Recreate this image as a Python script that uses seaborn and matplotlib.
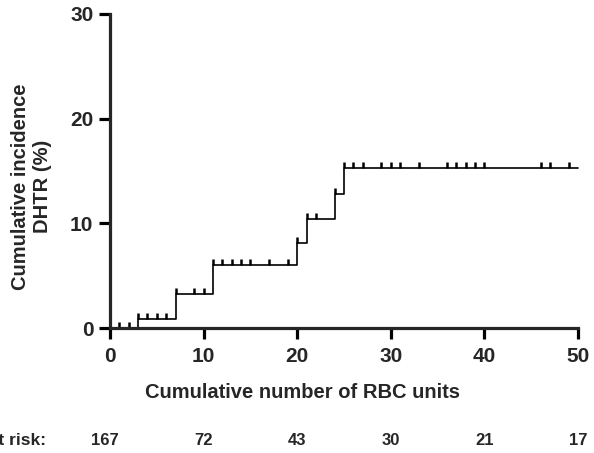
import seaborn as sns
import matplotlib.pyplot as plt
import matplotlib.transforms as mtransforms

# Kaplan-Meier style cumulative incidence (step points)
step_units = [0, 3, 7, 11, 20, 21, 24, 25, 50]
step_incidence = [0, 0.86, 3.22, 6.0, 8.15, 10.45, 12.77, 15.24, 15.24]

# censored observations
censor_units = [1, 2,
                3, 4, 5, 6,
                7, 9, 10,
                11, 12, 13, 14, 15, 17, 19,
                20,
                21, 22,
                24,
                25, 26, 27, 29, 30, 31, 33, 36, 37, 38, 39, 40, 46, 47, 49]
censor_incidence = [0, 0,
                    0.86, 0.86, 0.86, 0.86,
                    3.22, 3.22, 3.22,
                    6.0, 6.0, 6.0, 6.0, 6.0, 6.0, 6.0,
                    8.15,
                    10.45, 10.45,
                    12.77,
                    15.24, 15.24, 15.24, 15.24, 15.24, 15.24, 15.24, 15.24,
                    15.24, 15.24, 15.24, 15.24, 15.24, 15.24, 15.24]

risk_units = [0, 10, 20, 30, 40, 50]
at_risk = [167, 72, 43, 30, 21, 17]

sns.set_style("ticks")
plt.rcParams['font.family'] = ['Liberation Sans', 'DejaVu Sans']
plt.rcParams['font.weight'] = 'bold'

fig = plt.figure(figsize=(5.94, 4.53), dpi=100)
ax = fig.add_axes([0.1852, 0.2759, 0.7879, 0.6932])

sns.lineplot(x=step_units, y=step_incidence, drawstyle='steps-post', estimator=None,
             color='black', linewidth=1.2, ax=ax, clip_on=False)
ax.plot(censor_units, censor_incidence, ls='none', marker=[(0, 0), (0, 1)],
        markersize=8, markeredgewidth=1.8, color='black', clip_on=False)

ax.set_xlim(0, 50)
ax.set_ylim(0, 30)
ax.set_xticks(range(0, 51, 10))
ax.set_yticks(range(0, 31, 10))
sns.despine(ax=ax)
for s in ['left', 'bottom']:
    ax.spines[s].set_linewidth(2.3)
ax.tick_params(length=8, width=2.3, labelsize=15, color='black')
ax.tick_params(axis='x', pad=6)
ax.tick_params(axis='y', pad=4)
for lab in ax.get_xticklabels() + ax.get_yticklabels():
    lab.set_fontweight('bold')

ax.set_xlabel("Cumulative number of RBC units", fontsize=14.5, fontweight='bold')
ax.xaxis.set_label_coords(0.412, -0.175)
ax.set_ylabel("Cumulative incidence\nDHTR (%)", fontsize=14.5, fontweight='bold')
ax.yaxis.set_label_coords(-0.124, 0.45)

# number at risk row
trans = mtransforms.blended_transform_factory(ax.transData, fig.transFigure)
for i, (u, n) in enumerate(zip(risk_units, at_risk)):
    ax.text(u - (0.5 if i == 0 else 0), 0.0265, str(n), transform=trans,
            ha='center', va='center', fontsize=12, fontweight='bold')
fig.text(46 / 594, 0.0265, "Number at risk:", ha='right', va='center',
         fontsize=12.5, fontweight='bold')

fig.savefig("out.png", dpi=100)
